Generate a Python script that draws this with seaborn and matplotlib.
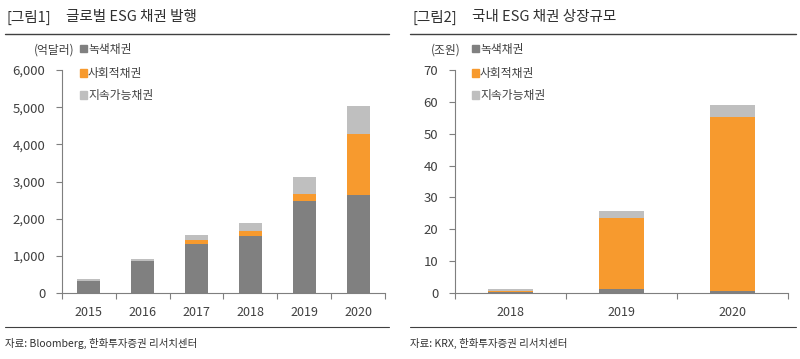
import numpy as np
import pandas as pd
import matplotlib
matplotlib.use("Agg")
import matplotlib.pyplot as plt
import seaborn as sns
from matplotlib.ticker import FuncFormatter, FixedLocator
from matplotlib.lines import Line2D
from matplotlib.patches import Rectangle

# ---- data ----
years_global = ["2015", "2016", "2017", "2018", "2019", "2020"]
green_global = [320, 860, 1330, 1530, 2480, 2640]
social_global = [10, 0, 90, 140, 190, 1630]
sustain_global = [50, 65, 150, 200, 460, 750]

years_kr = ["2018", "2019", "2020"]
green_kr = [0.2, 1.2, 0.7]
social_kr = [0.5, 22.3, 54.5]
sustain_kr = [0.7, 2.3, 3.8]

series_names = ["녹색채권", "사회적채권", "지속가능채권"]
colors = ["#808080", "#F79A2E", "#BFBFBF"]

sns.set_theme(style="white")
plt.rcParams['font.family'] = ['Noto Sans CJK KR', 'DejaVu Sans']

fig = plt.figure(figsize=(8, 3.59), dpi=100)

def draw_panel(ax, years, g, s, t, ymax, ystep, fmt, width):
    df = pd.DataFrame({"year": years, "g": g, "s": s, "t": t})
    df["gs"] = df["g"] + df["s"]
    df["tot"] = df["gs"] + df["t"]
    sns.barplot(data=df, x="year", y="tot", color=colors[2], width=width,
                saturation=1, ax=ax, order=years)
    sns.barplot(data=df, x="year", y="gs", color=colors[1], width=width,
                saturation=1, ax=ax, order=years)
    sns.barplot(data=df, x="year", y="g", color=colors[0], width=width,
                saturation=1, ax=ax, order=years)
    for p in ax.patches:
        p.set_edgecolor("none")
    ax.set_ylim(0, ymax)
    ax.set_xlim(-0.5, len(years) - 0.5)
    ax.set_yticks(np.arange(0, ymax + ystep / 2, ystep))
    ax.yaxis.set_major_formatter(FuncFormatter(fmt))
    ax.set_xlabel("")
    ax.set_ylabel("")
    for sp in ["top", "right"]:
        ax.spines[sp].set_visible(False)
    for sp in ["left", "bottom"]:
        ax.spines[sp].set_color("#7f7f7f")
        ax.spines[sp].set_linewidth(0.8)
    ax.tick_params(axis="y", which="major", left=True, length=4, width=0.8,
                   color="#7f7f7f", labelsize=9.5, labelcolor="#404040", pad=8)
    ax.tick_params(axis="x", which="major", bottom=False, labelsize=9,
                   labelcolor="#404040", pad=3)
    ax.xaxis.set_minor_locator(FixedLocator(np.arange(-0.5, len(years), 1.0)))
    ax.tick_params(axis="x", which="minor", bottom=True, length=4, width=0.8,
                   color="#7f7f7f")

ax1 = fig.add_axes([62 / 800, 1 - 293 / 359, 323 / 800, 223 / 359])
draw_panel(ax1, years_global, green_global, social_global, sustain_global,
           6000, 1000, lambda v, p: f"{int(v):,}", 0.43)

ax2 = fig.add_axes([455 / 800, 1 - 293 / 359, 333 / 800, 223 / 359])
draw_panel(ax2, years_kr, green_kr, social_kr, sustain_kr,
           70, 10, lambda v, p: f"{int(v)}", 0.41)

def fx(x):
    return x / 800
def fy(y):
    return 1 - y / 359

fig.text(fx(6), fy(17), "[그림1]", fontsize=10.5, va="center", color="#303030")
fig.text(fx(66), fy(17), "글로벌 ESG 채권 발행", fontsize=10.5, va="center", color="#303030")
fig.text(fx(412), fy(17), "[그림2]", fontsize=10.5, va="center", color="#303030")
fig.text(fx(472), fy(17), "국내 ESG 채권 상장규모", fontsize=10.5, va="center", color="#303030")

for x0, x1 in [(5, 389), (410, 796)]:
    fig.add_artist(Line2D([fx(x0), fx(x1)], [fy(34), fy(34)], color="#404040", lw=1.0))
    fig.add_artist(Line2D([fx(x0), fx(x1)], [fy(327), fy(327)], color="#404040", lw=0.8))

fig.text(fx(5), fy(343), "자료: Bloomberg, 한화투자증권 리서치센터", fontsize=7.5,
         va="center", color="#303030")
fig.text(fx(410), fy(343), "자료: KRX, 한화투자증권 리서치센터", fontsize=7.5,
         va="center", color="#303030")

fig.text(fx(34), fy(50), "(억달러)", fontsize=8.5, va="center", color="#404040")
fig.text(fx(431), fy(50), "(조원)", fontsize=8.5, va="center", color="#404040")

for lx in [80, 472]:
    for i, (name, c) in enumerate(zip(series_names, colors)):
        yy = [49, 73, 95][i]
        fig.add_artist(Rectangle((fx(lx), fy(yy) - 3.5 / 359), 7 / 800, 7 / 359,
                                 color=c, transform=fig.transFigure))
        fig.text(fx(lx + 8), fy(yy), name, fontsize=8.5, va="center", color="#404040")

fig.savefig("out.png", dpi=100)
